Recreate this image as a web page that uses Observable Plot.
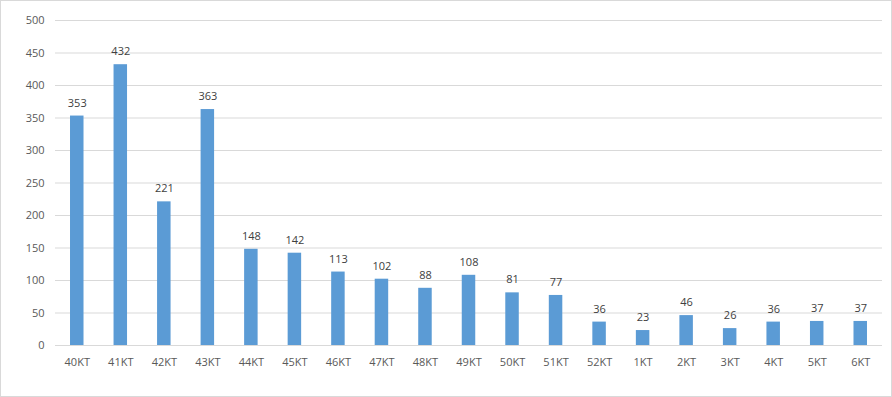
<!DOCTYPE html>
<html>
<head>
<meta charset="utf-8">
<script src="https://cdn.jsdelivr.net/npm/d3@7"></script>
<script src="https://cdn.jsdelivr.net/npm/@observablehq/plot@0.6"></script>
<style>
  body { margin: 0; background: #fff; }
  #chart svg { display: block; outline: 1px solid #d9d9d9; outline-offset: -1px; }
</style>
</head>
<body>
<div id="chart"></div>
<script>
const categories = ["40KT","41KT","42KT","43KT","44KT","45KT","46KT","47KT","48KT","49KT","50KT","51KT","52KT","1KT","2KT","3KT","4KT","5KT","6KT"];
const values = [353,432,221,363,148,142,113,102,88,108,81,77,36,23,46,26,36,37,37];
const yTicks = [0,50,100,150,200,250,300,350,400,450,500];

const data = categories.map((c, i) => ({cat: c, v: values[i]}));

const chart = Plot.plot({
  width: 892,
  height: 397,
  marginTop: 20,
  marginBottom: 52,
  marginLeft: 55,
  marginRight: 10,
  style: {fontFamily: "'Open Sans', 'Noto Sans', sans-serif", fontSize: "11px", color: "#595959", background: "#fff"},
  x: {domain: categories, paddingInner: 0.69, paddingOuter: 0.345, round: false, label: null},
  y: {domain: [0, 500], label: null},
  marks: [
    Plot.gridY(yTicks, {stroke: "#d9d9d9", strokeOpacity: 1, strokeWidth: 1}),
    Plot.barY(data, {x: "cat", y: "v", fill: "#5B9BD5"}),
    Plot.ruleY([0], {stroke: "#d9d9d9", strokeWidth: 1}),
    Plot.text(data, {x: "cat", y: "v", text: d => String(d.v), dy: -13, fill: "#404040", fontSize: 11}),
    Plot.axisY(yTicks, {tickSize: 0, tickPadding: 11, fill: "#595959", fontSize: 11, label: null}),
    Plot.axisX({tickSize: 0, tickPadding: 13, fill: "#595959", fontSize: 11, label: null})
  ]
});
document.getElementById("chart").append(chart);
</script>
</body>
</html>
